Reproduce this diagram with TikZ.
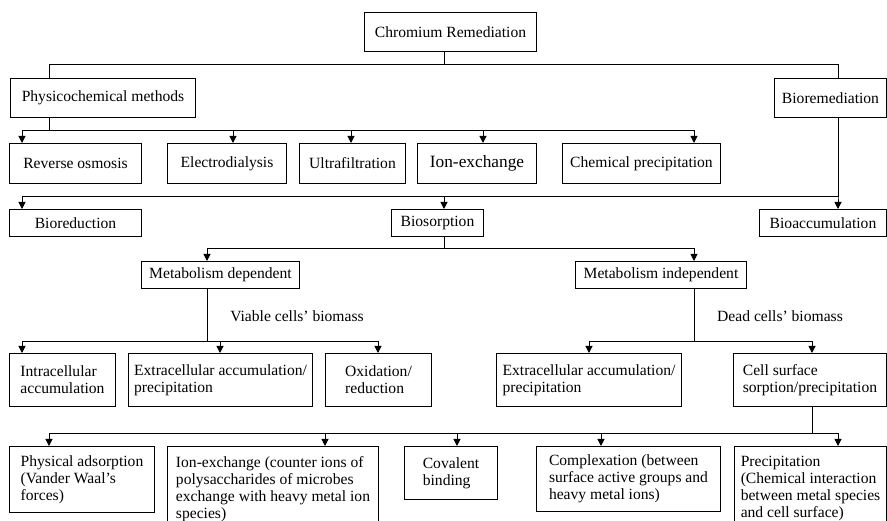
\documentclass[tikz,border=0pt]{standalone}
\usepackage{fontspec}
\setmainfont{Liberation Serif}
\usetikzlibrary{arrows.meta}

\begin{document}
\begin{tikzpicture}[x=1pt,y=-1pt,
      every node/.style={font=\fontsize{15.6}{17}\selectfont},
      box/.style={draw,line width=1pt,anchor=north west,inner sep=2pt,align=left},
      openbox/.style={box,inner ysep=10pt},
      link/.style={line width=1pt},
      arr/.style={link,-{Triangle[width=7pt,length=7pt]}}]
    \useasboundingbox (0,0) rectangle (887,521);
    \clip (0,0) rectangle (887,521);
    % top levels
    \node[box,minimum width=172,minimum height=39] (root) at (364,12) {Chromium Remediation};
    \node[box,minimum width=185,minimum height=39] (phys) at (10,78) {Physicochemical methods};
    \node[box,minimum width=112,minimum height=39] (bior) at (774,78) {Bioremediation};
    % physicochemical methods
    \node[box,minimum width=132,minimum height=40] (ro) at (9,143) {Reverse osmosis};
    \node[box,minimum width=119,minimum height=40] (ed) at (167,143) {Electrodialysis};
    \node[box,minimum width=106,minimum height=40] (uf) at (299,143) {Ultrafiltration};
    \node[box,minimum width=119,minimum height=40,font=\fontsize{17.3}{19}\selectfont] (ix) at (417,143) {Ion-exchange};
    \node[box,minimum width=158,minimum height=40] (cp) at (562,143) {Chemical precipitation};
    % bioremediation
    \node[box,minimum width=132,minimum height=27] (bred) at (9,209) {Bioreduction};
    \node[box,minimum width=92,minimum height=27] (bsorp) at (391,209) {Biosorption};
    \node[box,minimum width=127,minimum height=27] (bacc) at (759,209) {Bioaccumulation};
    \node[box,minimum width=158,minimum height=27] (mdep) at (141,261) {Metabolism dependent};
    \node[box,minimum width=171,minimum height=27] (mind) at (575,261) {Metabolism independent};
    \node (viable) at (297,316) {Viable cells’ biomass};
    \node (dead) at (780,316) {Dead cells’ biomass};
    \node[box,minimum width=106,minimum height=53] (ic) at (9,353) {Intracellular\\accumulation};
    \node[box,minimum width=184,minimum height=53] (ecl) at (128,353) {Extracellular accumulation/\\precipitation};
    \node[box,minimum width=106,minimum height=53] (ox) at (325,353) {Oxidation/\\reduction};
    \node[box,minimum width=185,minimum height=53] (ecr) at (496,353) {Extracellular accumulation/\\precipitation};
    \node[box,minimum width=153,minimum height=53] (cs) at (733,353) {Cell surface\\sorption/precipitation};
    % cell surface mechanisms
    \node[box,minimum width=145,minimum height=66] (pa) at (9,446) {Physical adsorption\\(Vander Waal’s\\forces)};
    \node[openbox,minimum width=211] (iex) at (167,446) {Ion-exchange (counter ions of\\polysaccharides of microbes\\exchange with heavy metal ion\\species)};
    \node[box,minimum width=93,minimum height=53] (cb) at (404,446) {Covalent\\binding};
    \node[box,minimum width=184,minimum height=65] (cx) at (536,446) {Complexation (between\\surface active groups and\\heavy metal ions)};
    \node[openbox,minimum width=152] (pr) at (734,446) {Precipitation\\(Chemical interaction\\between metal species\\and cell surface)};

    \draw[link] ([xshift=-6pt]root.south) -- ++(0,13) -| ([xshift=39pt]phys.north west);
    \draw[link] ([xshift=-6pt]root.south) -- ++(0,13) -| ([xshift=64pt]bior.north west);
    \foreach \c/\x in {ro/13,ed/66,uf/52,ix/66,cp/132}
      \draw[arr] ([xshift=39pt]phys.south west) -- ++(0,13) -| ([xshift=\x pt]\c.north west);
    \foreach \c/\x in {bred/13,bsorp/53,bacc/79}
      \draw[arr] ([xshift=64pt]bior.south west) -- ++(0,79) -| ([xshift=\x pt]\c.north west);
    \foreach \c/\x in {mdep/66,mind/119}
      \draw[arr] ([xshift=53pt]bsorp.south west) -- ++(0,12) -| ([xshift=\x pt]\c.north west);
    \foreach \c/\x in {ic/13,ecl/92,ox/53}
      \draw[arr] ([xshift=66pt]mdep.south west) -- ++(0,53) -| ([xshift=\x pt]\c.north west);
    \foreach \c/\x in {ecr/93,cs/79}
      \draw[arr] ([xshift=119pt]mind.south west) -- ++(0,53) -| ([xshift=\x pt]\c.north west);
    \foreach \c/\x in {pa/40,iex/158,cb/53,cx/65,pr/104}
      \draw[arr] ([xshift=79pt]cs.south west) -- ++(0,27) -| ([xshift=\x pt]\c.north west);
  \end{tikzpicture}
\end{document}
